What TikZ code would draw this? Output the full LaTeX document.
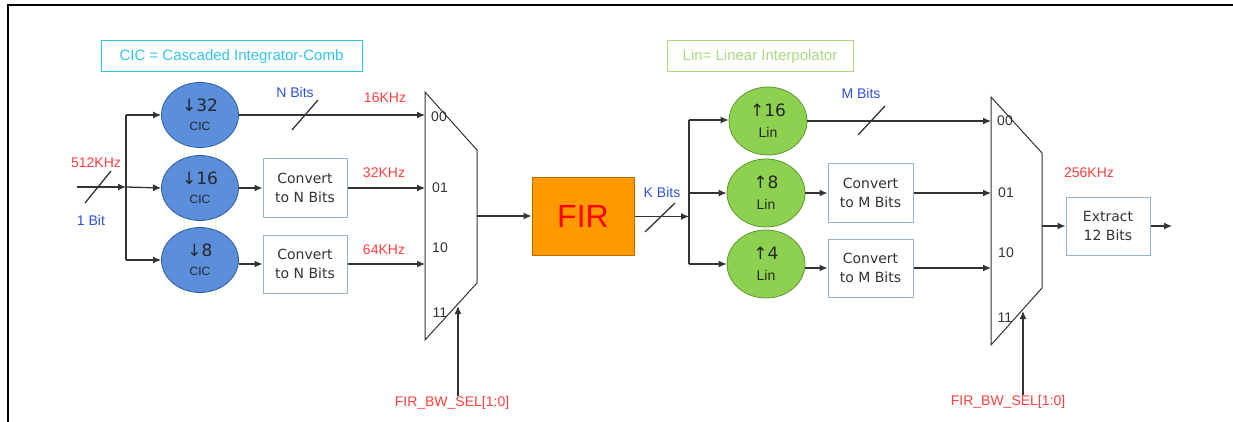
\documentclass[tikz,border=0pt]{standalone}
\usepackage{fontspec}
\setmainfont{Liberation Sans}
\newfontfamily\dejavu{DejaVu Sans}
\usetikzlibrary{shapes.geometric,arrows.meta}
\definecolor{cicblue}{HTML}{5B8FDC}
\definecolor{cicline}{HTML}{2E5C9E}
\definecolor{lingreen}{HTML}{8ED150}
\definecolor{linline}{HTML}{5A9A2A}
\definecolor{firorange}{HTML}{FF9900}
\definecolor{firline}{HTML}{B86E00}
\definecolor{boxline}{HTML}{95B3D7}
\definecolor{lblred}{HTML}{FF4040}
\definecolor{lblblue}{HTML}{3050E0}
\definecolor{legcyan}{HTML}{33C4EE}
\definecolor{leggreen}{HTML}{A8D880}
\definecolor{wire}{HTML}{333333}
\tikzset{
  wirestyle/.style={draw=wire, line width=1.3pt},
  arr/.style={wirestyle, -{Latex[length=8pt,width=7pt]}},
  cicnode/.style={ellipse, draw=cicline, line width=0.8pt, fill=cicblue, minimum width=77pt, minimum height=65pt, inner sep=0pt, align=center, text=black!85, font=\fontsize{17}{19}\selectfont},
  linnode/.style={ellipse, draw=linline, line width=0.8pt, fill=lingreen, minimum width=78pt, minimum height=68pt, inner sep=0pt, align=center, text=black!85, font=\fontsize{17}{21}\selectfont},
  convbox/.style={rectangle, draw=boxline, line width=1pt, fill=white, minimum width=84pt, minimum height=58pt, inner sep=0pt, align=center, text=black!80, font=\dejavu\fontsize{14}{19}\selectfont},
  redlbl/.style={text=lblred, font=\fontsize{14}{14}\selectfont, inner sep=0pt},
  bluelbl/.style={text=lblblue, font=\fontsize{14}{14}\selectfont, inner sep=0pt},
  muxlbl/.style={text=black!80, font=\fontsize{14}{14}\selectfont, inner sep=0pt},
  muxshape/.style={draw=wire, line width=1pt},
}
\newcommand{\bigsym}[1]{{\dejavu\fontsize{17}{17}\selectfont #1}}
\begin{document}
\begin{tikzpicture}[x=1pt,y=-1pt]
\useasboundingbox (0,0) rectangle (1233,422);
% frame
\draw[line width=2.2pt] (8,422) -- (8,5) -- (1233,5);

% legends
\node[draw=legcyan, line width=1pt, text=legcyan, minimum width=261pt, minimum height=31pt, inner sep=0pt, font=\fontsize{15}{15}\selectfont] (legcic) at (231.5,56.5) {CIC = Cascaded Integrator-Comb};
\node[draw=leggreen, line width=1pt, text=leggreen, minimum width=186pt, minimum height=31pt, inner sep=0pt, font=\fontsize{15}{15}\selectfont] (leglin) at (760,56.5) {Lin= Linear Interpolator};

% input
\coordinate (in) at (77,187);
\coordinate (busL) at (126,187);
\coordinate (busLt) at (126,115);
\coordinate (busLb) at (126,260);
\node[redlbl] (f512) at (96,163) {512KHz};
\node[bluelbl] (onebit) at (91,220) {1 Bit};

% CIC stages
\node[cicnode] (c32) at (200,115) {\bigsym{↓32}\\{\fontsize{12}{12}\selectfont CIC}};
\node[cicnode] (c16) at (200,188) {\bigsym{↓16}\\{\fontsize{12}{12}\selectfont CIC}};
\node[cicnode] (c8) at (200,260) {\bigsym{↓8}\\{\fontsize{12}{12}\selectfont CIC}};
\node[convbox] (cn1) at (305,188) {Convert\\to N Bits};
\node[convbox] (cn2) at (305,264) {Convert\\to N Bits};

% MUX 1
\coordinate (m1a) at (425,92);
\coordinate (m1b) at (477,150);
\coordinate (m1c) at (477,283);
\coordinate (m1d) at (425,340);
\draw[muxshape] (m1a) -- (m1b) -- (m1c) -- (m1d) -- cycle;
\node[muxlbl] (m1l00) at (439,117) {00};
\node[muxlbl] (m1l01) at (440,188) {01};
\node[muxlbl] (m1l10) at (440,248) {10};
\node[muxlbl] (m1l11) at (440,313) {11};
\coordinate (m1in1) at (425,115);
\coordinate (m1in2) at (425,188);
\coordinate (m1in3) at (425,264);
\coordinate (m1out) at (477,216);
\coordinate (m1sel) at (458,306);
\node[redlbl] (sel1) at (452,403) {FIR\_BW\_SEL[1:0]};

\node[bluelbl] (nbits) at (295,92) {N Bits};
\node[redlbl] (f16) at (385,98) {16KHz};
\node[redlbl] (f32) at (384,173) {32KHz};
\node[redlbl] (f64) at (384,250) {64KHz};

% FIR
\node[rectangle, draw=firline, line width=1pt, fill=firorange, minimum width=102pt, minimum height=77pt, inner sep=0pt, text=red, font=\fontsize{32}{32}\selectfont] (fir) at (583,216.5) {FIR};
\node[bluelbl] (kbits) at (662,192) {K Bits};

% Lin stages
\coordinate (busR) at (689,216.5);
\coordinate (busRt) at (689,120);
\coordinate (busRb) at (689,264);
\node[linnode] (l16) at (768,121) {\bigsym{↑16}\\{\fontsize{14}{14}\selectfont Lin}};
\node[linnode] (l8) at (766,193) {\bigsym{↑8}\\{\fontsize{14}{14}\selectfont Lin}};
\node[linnode] (l4) at (766,264) {\bigsym{↑4}\\{\fontsize{14}{14}\selectfont Lin}};
\node[convbox, minimum width=85pt] (cm1) at (870.5,193) {Convert\\to M Bits};
\node[convbox, minimum width=85pt] (cm2) at (870.5,268) {Convert\\to M Bits};
\node[bluelbl] (mbits) at (861,93) {M Bits};

% MUX 2
\coordinate (m2a) at (991,97);
\coordinate (m2b) at (1042,153);
\coordinate (m2c) at (1042,288);
\coordinate (m2d) at (991,345);
\draw[muxshape] (m2a) -- (m2b) -- (m2c) -- (m2d) -- cycle;
\node[muxlbl] (m2l00) at (1005,121) {00};
\node[muxlbl] (m2l01) at (1006,193) {01};
\node[muxlbl] (m2l10) at (1006,253) {10};
\node[muxlbl] (m2l11) at (1005,318) {11};
\coordinate (m2in1) at (991,121);
\coordinate (m2in2) at (991,193);
\coordinate (m2in3) at (991,268);
\coordinate (m2out) at (1042,226);
\coordinate (m2sel) at (1023,311);
\node[redlbl] (sel2) at (1008,402) {FIR\_BW\_SEL[1:0]};
\node[redlbl] (f256) at (1089,173) {256KHz};
\node[convbox, minimum width=84pt] (ext) at (1108,226) {Extract\\12 Bits};
\coordinate (out) at (1172,226);

% wires left
\draw[arr] (in) -- (busL);
\draw[wirestyle] (85,203) -- (111,171);
\draw[wirestyle] (busLt) -- (busLb);
\draw[arr] (busLt) -- (c32.west);
\draw[arr] (busL) -- (c16.west);
\draw[arr] (busLb) -- (c8.west);
\draw[arr] (c32.east) -- (m1in1);
\draw[wirestyle] (292,130) -- (318,100);
\draw[arr] (c16.east) -- (cn1.west);
\draw[arr] (cn1.east) -- (m1in2);
\draw[arr] (c8.east |- cn2.west) -- (cn2.west);
\draw[arr] (cn2.east) -- (m1in3);
\draw[arr] (sel1.north -| m1sel) -- (m1sel);
\draw[arr] (m1out) -- (fir.west |- m1out);

% wires right
\draw[arr] (fir.east |- busR) -- (busR);
\draw[wirestyle] (645,232) -- (675,203);
\draw[wirestyle] (busRt) -- (busRb);
\draw[arr] (busRt) -- (l16.west |- busRt);
\draw[arr] (busR |- l8.west) -- (l8.west);
\draw[arr] (busRb) -- (l4.west);
\draw[arr] (l16.east) -- (m2in1);
\draw[wirestyle] (858,135) -- (885,106);
\draw[arr] (l8.east) -- (cm1.west);
\draw[arr] (cm1.east) -- (m2in2);
\draw[arr] (l4.east |- cm2.west) -- (cm2.west);
\draw[arr] (cm2.east) -- (m2in3);
\draw[arr] (sel2.north -| m2sel) -- (m2sel);
\draw[arr] (m2out) -- (ext.west);
\draw[arr] (ext.east) -- (out);
\end{tikzpicture}
\end{document}
